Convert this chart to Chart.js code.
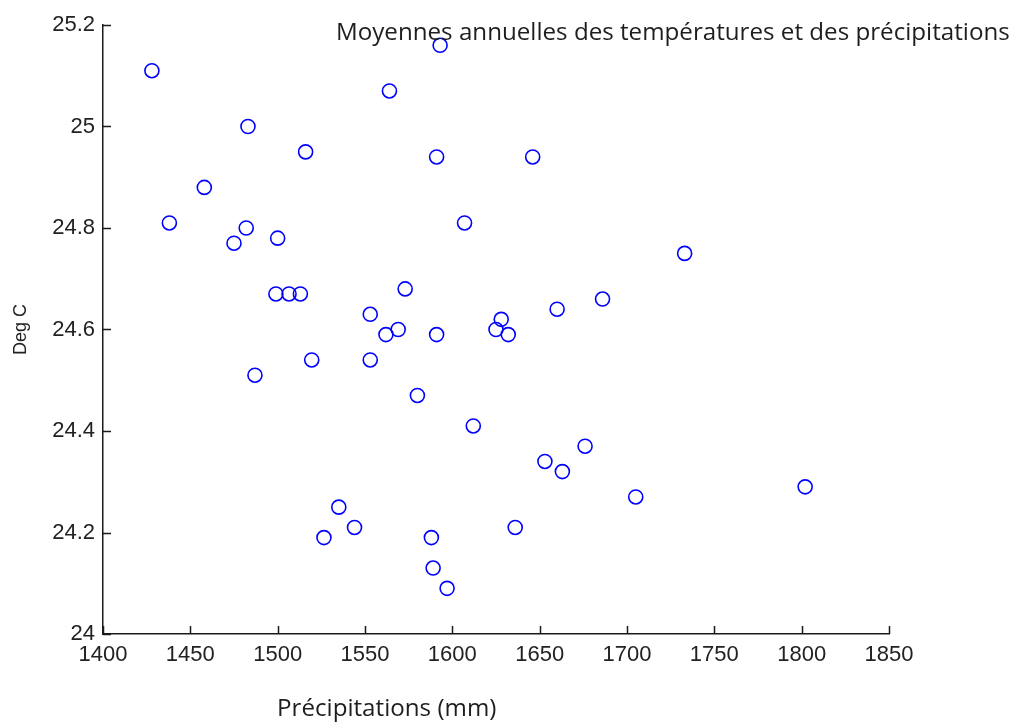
<!DOCTYPE html>
<html>
<head>
<meta charset="utf-8">
<script src="https://cdn.jsdelivr.net/npm/chart.js@4.4.1/dist/chart.umd.min.js"></script>
<style>
  html, body { margin: 0; padding: 0; background: #ffffff; }
  #wrap { width: 1014px; height: 722px; }
</style>
</head>
<body>
<div id="wrap"><canvas id="c" width="1014" height="722"></canvas></div>
<script>
// Annual mean precipitation (mm) and annual mean temperature (deg C)
const precipitation = [
  1428, 1593, 1564, 1483, 1516, 1591, 1646, 1458, 1438, 1482,
  1607, 1500, 1475, 1733, 1499, 1506.5, 1513, 1573, 1686, 1660,
  1553, 1569, 1562, 1591, 1628, 1625, 1632, 1519.5, 1553, 1487,
  1580, 1612, 1676, 1653, 1663, 1705, 1802, 1535, 1544, 1526.5,
  1588, 1636, 1589, 1597
];
const temperature = [
  25.11, 25.16, 25.07, 25.00, 24.95, 24.94, 24.94, 24.88, 24.81, 24.80,
  24.81, 24.78, 24.77, 24.75, 24.67, 24.67, 24.67, 24.68, 24.66, 24.64,
  24.63, 24.60, 24.59, 24.59, 24.62, 24.60, 24.59, 24.54, 24.54, 24.51,
  24.47, 24.41, 24.37, 24.34, 24.32, 24.27, 24.29, 24.25, 24.21, 24.19,
  24.19, 24.21, 24.13, 24.09
];
const xTicks = [1400, 1450, 1500, 1550, 1600, 1650, 1700, 1750, 1800, 1850];
const yTicks = [24, 24.2, 24.4, 24.6, 24.8, 25, 25.2];

const titleText = 'Moyennes annuelles des températures et des précipitations';
const xLabelText = 'Précipitations (mm)';
const yLabelText = 'Deg C';

const points = precipitation.map((p, i) => ({ x: p, y: temperature[i] }));

const tickFont = { family: '"Liberation Sans", Arial, sans-serif', size: 22 };
const axisColor = '#1a1a1a';
const textFamily = '"Open Sans", Lato, sans-serif';

// Inward tick marks plus the free-standing title and x label
const decorations = {
  id: 'decorations',
  afterDraw(chart) {
    const { ctx, chartArea: a, scales: { x, y } } = chart;
    ctx.save();
    ctx.strokeStyle = axisColor;
    ctx.lineWidth = 1.5;
    ctx.beginPath();
    xTicks.forEach(v => {
      const px = Math.round(x.getPixelForValue(v)) + 0.5;
      ctx.moveTo(px, a.bottom);
      ctx.lineTo(px, a.bottom - 8);
    });
    yTicks.forEach(v => {
      const py = Math.round(y.getPixelForValue(v)) + 0.5;
      ctx.moveTo(a.left, py);
      ctx.lineTo(a.left + 8, py);
    });
    ctx.stroke();

    ctx.fillStyle = '#1e1e1e';
    ctx.textBaseline = 'alphabetic';

    // title spans from x=336 to the right edge at x=1010
    ctx.font = '21px ' + textFamily;
    const w = ctx.measureText(titleText).width;
    const size = 21 * 674 / w;
    ctx.font = size.toFixed(2) + 'px ' + textFamily;
    ctx.textAlign = 'left';
    ctx.fillText(titleText, 336, 40);

    ctx.font = size.toFixed(2) + 'px ' + textFamily;
    ctx.fillText(xLabelText, 277, 716);
    ctx.restore();
  }
};

new Chart(document.getElementById('c'), {
  type: 'scatter',
  data: {
    datasets: [{
      data: points,
      pointStyle: 'circle',
      pointRadius: 7,
      pointHoverRadius: 7,
      borderWidth: 1.6,
      borderColor: '#0000ff',
      backgroundColor: 'rgba(0,0,0,0)'
    }]
  },
  options: {
    responsive: false,
    animation: false,
    devicePixelRatio: 1,
    clip: false,
    layout: { padding: { left: 0, top: 25, right: 125, bottom: 0 } },
    plugins: {
      legend: { display: false },
      title: { display: false },
      tooltip: { enabled: false }
    },
    scales: {
      x: {
        type: 'linear',
        min: 1400,
        max: 1850,
        afterBuildTicks(scale) { scale.ticks = xTicks.map(v => ({ value: v })); },
        afterFit(scale) { scale.height = 88; },
        grid: { display: true, drawOnChartArea: false, drawTicks: false },
        border: { display: true, color: axisColor, width: 1.5 },
        ticks: {
          font: tickFont,
          color: '#222',
          padding: 8,
          maxRotation: 0,
          autoSkip: false,
          callback: v => String(v)
        }
      },
      y: {
        type: 'linear',
        min: 24,
        max: 25.2,
        afterBuildTicks(scale) { scale.ticks = yTicks.map(v => ({ value: v })); },
        afterFit(scale) { scale.width = 103; },
        grid: { display: true, drawOnChartArea: false, drawTicks: false },
        border: { display: true, color: axisColor, width: 1.5 },
        ticks: {
          font: tickFont,
          color: '#222',
          padding: 8,
          autoSkip: false,
          callback: v => String(Math.round(v * 10) / 10)
        },
        title: {
          display: true,
          text: yLabelText,
          color: '#222',
          font: { family: '"Liberation Sans", Arial, sans-serif', size: 18 },
          padding: { top: 10, bottom: 0 }
        }
      }
    }
  },
  plugins: [decorations]
});
</script>
</body>
</html>
